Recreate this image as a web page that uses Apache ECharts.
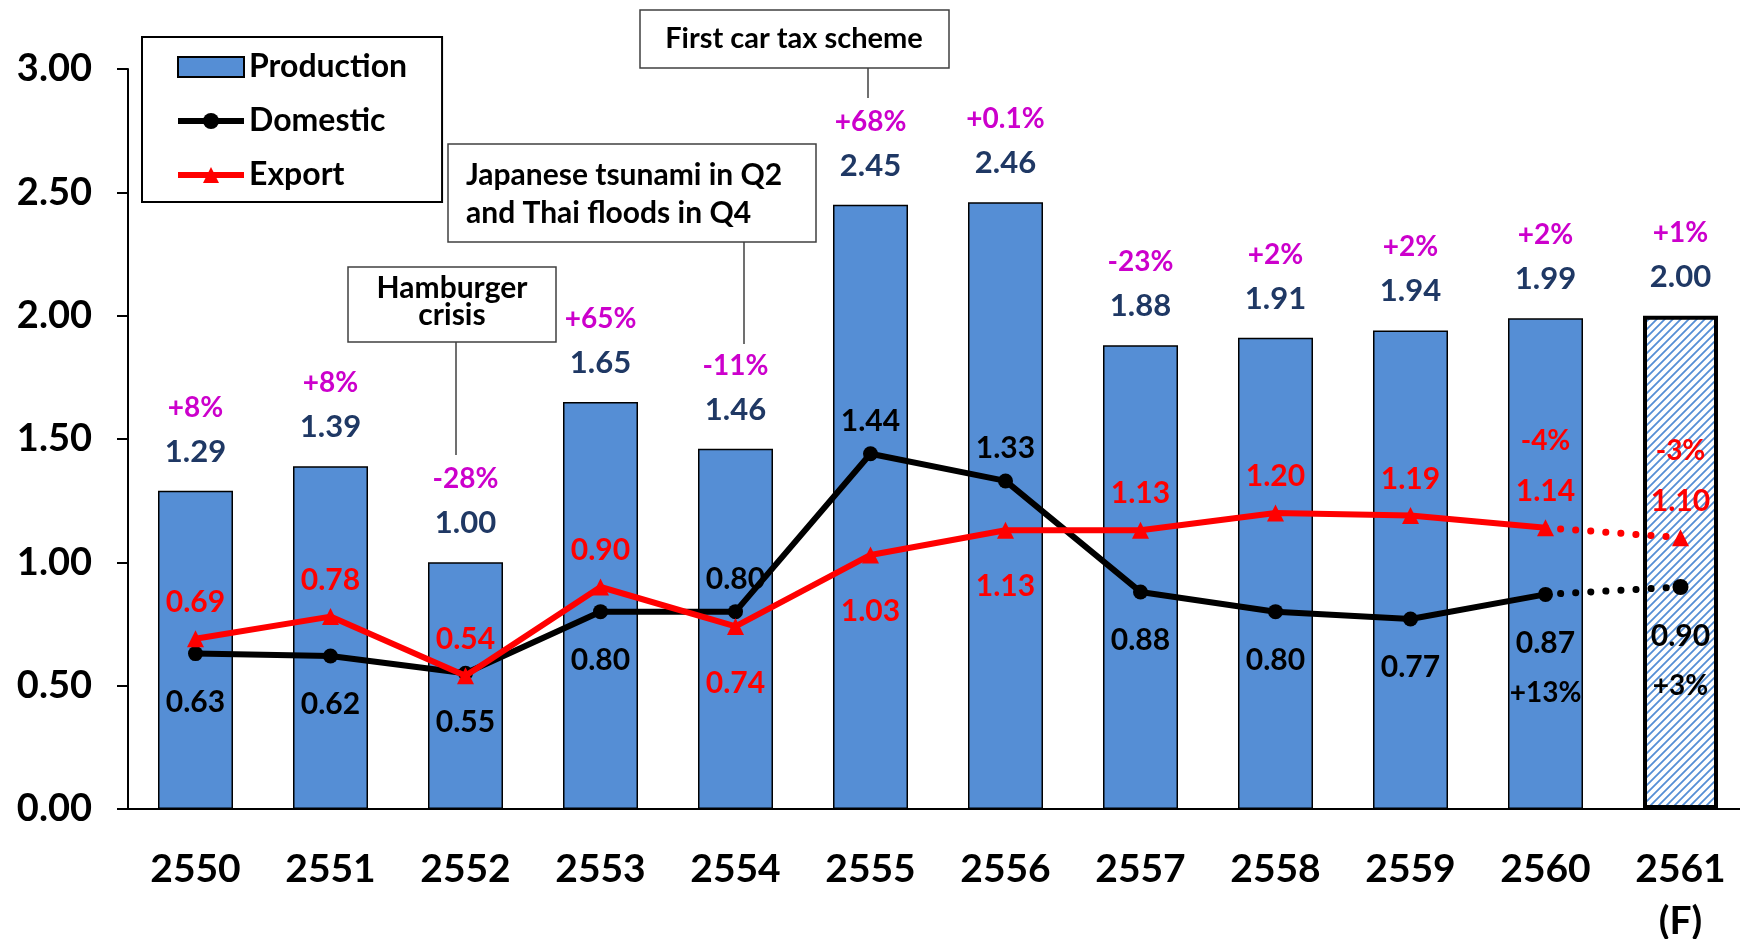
<!DOCTYPE html>
<html>
<head>
<meta charset="utf-8">
<title>Car production, domestic sales and export</title>
<script src="https://cdn.jsdelivr.net/npm/echarts@6/dist/echarts.min.js"></script>
<style>
  html, body { margin: 0; padding: 0; background: #fff; }
  #chart { width: 1740px; height: 939px; }
</style>
</head>
<body>
<div id="chart"></div>
<script>
// data (million units)
const years = ['2550', '2551', '2552', '2553', '2554', '2555', '2556', '2557', '2558', '2559', '2560', '2561'];
const production = [1.29, 1.39, 1.00, 1.65, 1.46, 2.45, 2.46, 1.88, 1.91, 1.94, 1.99, 2.00];
const domestic = [0.63, 0.62, 0.55, 0.80, 0.80, 1.44, 1.33, 0.88, 0.80, 0.77, 0.87, 0.90];
const exportVals = [0.69, 0.78, 0.54, 0.90, 0.74, 1.03, 1.13, 1.13, 1.20, 1.19, 1.14, 1.10];
const prodGrowth = ['+8%', '+8%', '-28%', '+65%', '-11%', '+68%', '+0.1%', '-23%', '+2%', '+2%', '+2%', '+1%'];
const domesticGrowth = ['', '', '', '', '', '', '', '', '', '', '+13%', '+3%'];
const exportGrowth = ['', '', '', '', '', '', '', '', '', '', '-4%', '-3%'];
const forecastIdx = 11; // 2561 is a forecast

// where each line label sits
const domesticLabelPos = ['bottom', 'bottom', 'bottom', 'bottom', 'top', 'top', 'top', 'bottom', 'bottom', 'bottom', 'bottom', 'bottom'];
const exportLabelPos = ['top', 'top', 'top', 'top', 'bottom', 'bottom', 'bottom', 'top', 'top', 'top', 'top', 'top'];

const FONT = 'Lato, "Open Sans", sans-serif';
const BLUE = '#558ED5';

// diagonal hatch for the forecast bar
function hatch() {
  const c = document.createElement('canvas');
  c.width = 8; c.height = 8;
  const ctx = c.getContext('2d');
  ctx.fillStyle = '#fff';
  ctx.fillRect(0, 0, 8, 8);
  ctx.strokeStyle = BLUE;
  ctx.lineWidth = 1.8;
  ctx.beginPath();
  ctx.moveTo(0, 8); ctx.lineTo(8, 0);
  ctx.moveTo(-2, 2); ctx.lineTo(2, -2);
  ctx.moveTo(6, 10); ctx.lineTo(10, 6);
  ctx.stroke();
  return c;
}

function lineLabel(val, growth, pos) {
  const v = '{v|' + val.toFixed(2) + '}';
  if (!growth) return v;
  return pos === 'top' ? '{g|' + growth + '}\n' + v : v + '\n{g|' + growth + '}';
}

// dist = [above, below]
function lineItems(values, growth, posArr, from, to, hideFrom, dist) {
  return values.map((v, i) => {
    if (i < from || i > to) return '-';
    const item = {
      value: v,
      label: {
        position: posArr[i],
        distance: posArr[i] === 'top' ? dist[0] : dist[1],
        formatter: lineLabel(v, growth[i], posArr[i])
      }
    };
    if (hideFrom && i === from) {
      item.symbol = 'none';
      item.label = { show: false };
    }
    return item;
  });
}

function richFor(color) {
  return {
    v: { color: color, fontSize: 30, fontWeight: 'bold', fontFamily: FONT, lineHeight: 40 },
    g: { color: color, fontSize: 28, fontWeight: 'bold', fontFamily: FONT, lineHeight: 60 }
  };
}

const prodData = production.map((v, i) => {
  if (i !== forecastIdx) return v;
  return {
    value: v,
    itemStyle: { color: { image: hatch(), repeat: 'repeat' }, borderColor: '#000', borderWidth: 4 }
  };
});

const domDist = [5, 21];
const expDist = [8, 28];

const chart = echarts.init(document.getElementById('chart'));

const option = {
  animation: false,
  backgroundColor: '#fff',
  grid: { left: 128, top: 69, width: 1620, height: 740, containLabel: false, outerBoundsMode: 'none' },
  legend: {
    data: [
      { name: 'Production', icon: 'rect' },
      { name: 'Domestic', lineStyle: { width: 6 } },
      { name: 'Export', lineStyle: { width: 6 } }
    ],
    orient: 'vertical',
    left: 142,
    top: 37,
    padding: [13, 35, 10, 33],
    itemGap: 20,
    itemWidth: 66,
    itemHeight: 20,
    borderColor: '#000',
    borderWidth: 2,
    textStyle: { fontSize: 32, fontWeight: 'bold', fontFamily: FONT, color: '#000', lineHeight: 34 }
  },
  xAxis: {
    type: 'category',
    data: years,
    axisLine: { lineStyle: { color: '#000', width: 2 } },
    axisTick: { length: 13, lineStyle: { color: '#000', width: 2 } },
    axisLabel: {
      color: '#000',
      fontSize: 39,
      fontWeight: 'bold',
      fontFamily: FONT,
      lineHeight: 52,
      margin: 34,
      formatter: (v, i) => (i === forecastIdx ? v + '\n(F)' : v)
    }
  },
  yAxis: {
    type: 'value',
    min: 0,
    max: 3,
    interval: 0.5,
    splitLine: { show: false },
    axisLine: { show: true, lineStyle: { color: '#000', width: 2 } },
    axisTick: { show: true, length: 11, lineStyle: { color: '#000', width: 2 } },
    axisLabel: {
      color: '#000',
      fontSize: 38,
      fontWeight: 'bold',
      fontFamily: FONT,
      margin: 36,
      formatter: v => v.toFixed(2)
    }
  },
  series: [
    {
      name: 'Production',
      type: 'bar',
      barWidth: 75,
      data: prodData,
      itemStyle: { color: BLUE, borderColor: '#000', borderWidth: 1.5 },
      label: {
        show: true,
        position: 'top',
        distance: 17,
        formatter: p => '{p|' + prodGrowth[p.dataIndex] + '}\n{v|' + production[p.dataIndex].toFixed(2) + '}',
        rich: {
          p: { color: '#CC00CC', fontSize: 28, fontWeight: 'bold', fontFamily: FONT, lineHeight: 44 },
          v: { color: '#1F3864', fontSize: 31, fontWeight: 'bold', fontFamily: FONT, lineHeight: 44 }
        }
      },
      z: 1
    },
    {
      name: 'Domestic',
      type: 'line',
      data: lineItems(domestic, domesticGrowth, domesticLabelPos, 0, 10, false, domDist),
      symbol: 'circle',
      symbolSize: 15,
      lineStyle: { color: '#000', width: 6 },
      itemStyle: { color: '#000' },
      label: { show: true, rich: richFor('#000') },
      z: 3
    },
    {
      name: 'Domestic (F)',
      type: 'line',
      data: lineItems(domestic, domesticGrowth, domesticLabelPos, 10, 11, true, domDist),
      symbol: 'circle',
      symbolSize: 16,
      lineStyle: { color: '#000', width: 7, type: [0.1, 15], cap: 'round' },
      itemStyle: { color: '#000' },
      label: { show: true, rich: richFor('#000') },
      z: 3
    },
    {
      name: 'Export',
      type: 'line',
      data: lineItems(exportVals, exportGrowth, exportLabelPos, 0, 10, false, expDist),
      symbol: 'triangle',
      symbolSize: 17,
      lineStyle: { color: '#FF0000', width: 6 },
      itemStyle: { color: '#FF0000' },
      label: { show: true, rich: richFor('#FF0000') },
      z: 4
    },
    {
      name: 'Export (F)',
      type: 'line',
      data: lineItems(exportVals, exportGrowth, exportLabelPos, 10, 11, true, expDist),
      symbol: 'triangle',
      symbolSize: 17,
      lineStyle: { color: '#FF0000', width: 7, type: [0.1, 15], cap: 'round' },
      itemStyle: { color: '#FF0000' },
      label: { show: true, rich: richFor('#FF0000') },
      z: 4
    }
  ],
  // event call-outs
  graphic: [
    { type: 'line', shape: { x1: 868, y1: 68, x2: 868, y2: 98 }, style: { stroke: '#404040', lineWidth: 1.5 } },
    { type: 'rect', shape: { x: 640, y: 10, width: 309, height: 58 }, style: { fill: '#fff', stroke: '#404040', lineWidth: 1.5 } },
    { type: 'text', style: { text: 'First car tax scheme', x: 794, y: 39, align: 'center', verticalAlign: 'middle', font: 'bold 29px ' + FONT, fill: '#000' } },

    { type: 'line', shape: { x1: 744, y1: 242, x2: 744, y2: 344 }, style: { stroke: '#404040', lineWidth: 1.5 } },
    { type: 'rect', shape: { x: 448, y: 144, width: 368, height: 98 }, style: { fill: '#fff', stroke: '#404040', lineWidth: 1.5 } },
    { type: 'text', style: { text: 'Japanese tsunami in Q2\nand Thai floods in Q4', x: 466, y: 194, align: 'left', verticalAlign: 'middle', lineHeight: 38, font: 'bold 30px ' + FONT, fill: '#000' } },

    { type: 'line', shape: { x1: 456, y1: 342, x2: 456, y2: 455 }, style: { stroke: '#404040', lineWidth: 1.5 } },
    { type: 'rect', shape: { x: 348, y: 267, width: 208, height: 75 }, style: { fill: '#fff', stroke: '#404040', lineWidth: 1.5 } },
    { type: 'text', style: { text: 'Hamburger\ncrisis', x: 452, y: 302, align: 'center', verticalAlign: 'middle', lineHeight: 27, font: 'bold 30px ' + FONT, fill: '#000' } }
  ]
};

chart.setOption(option);
</script>
</body>
</html>
